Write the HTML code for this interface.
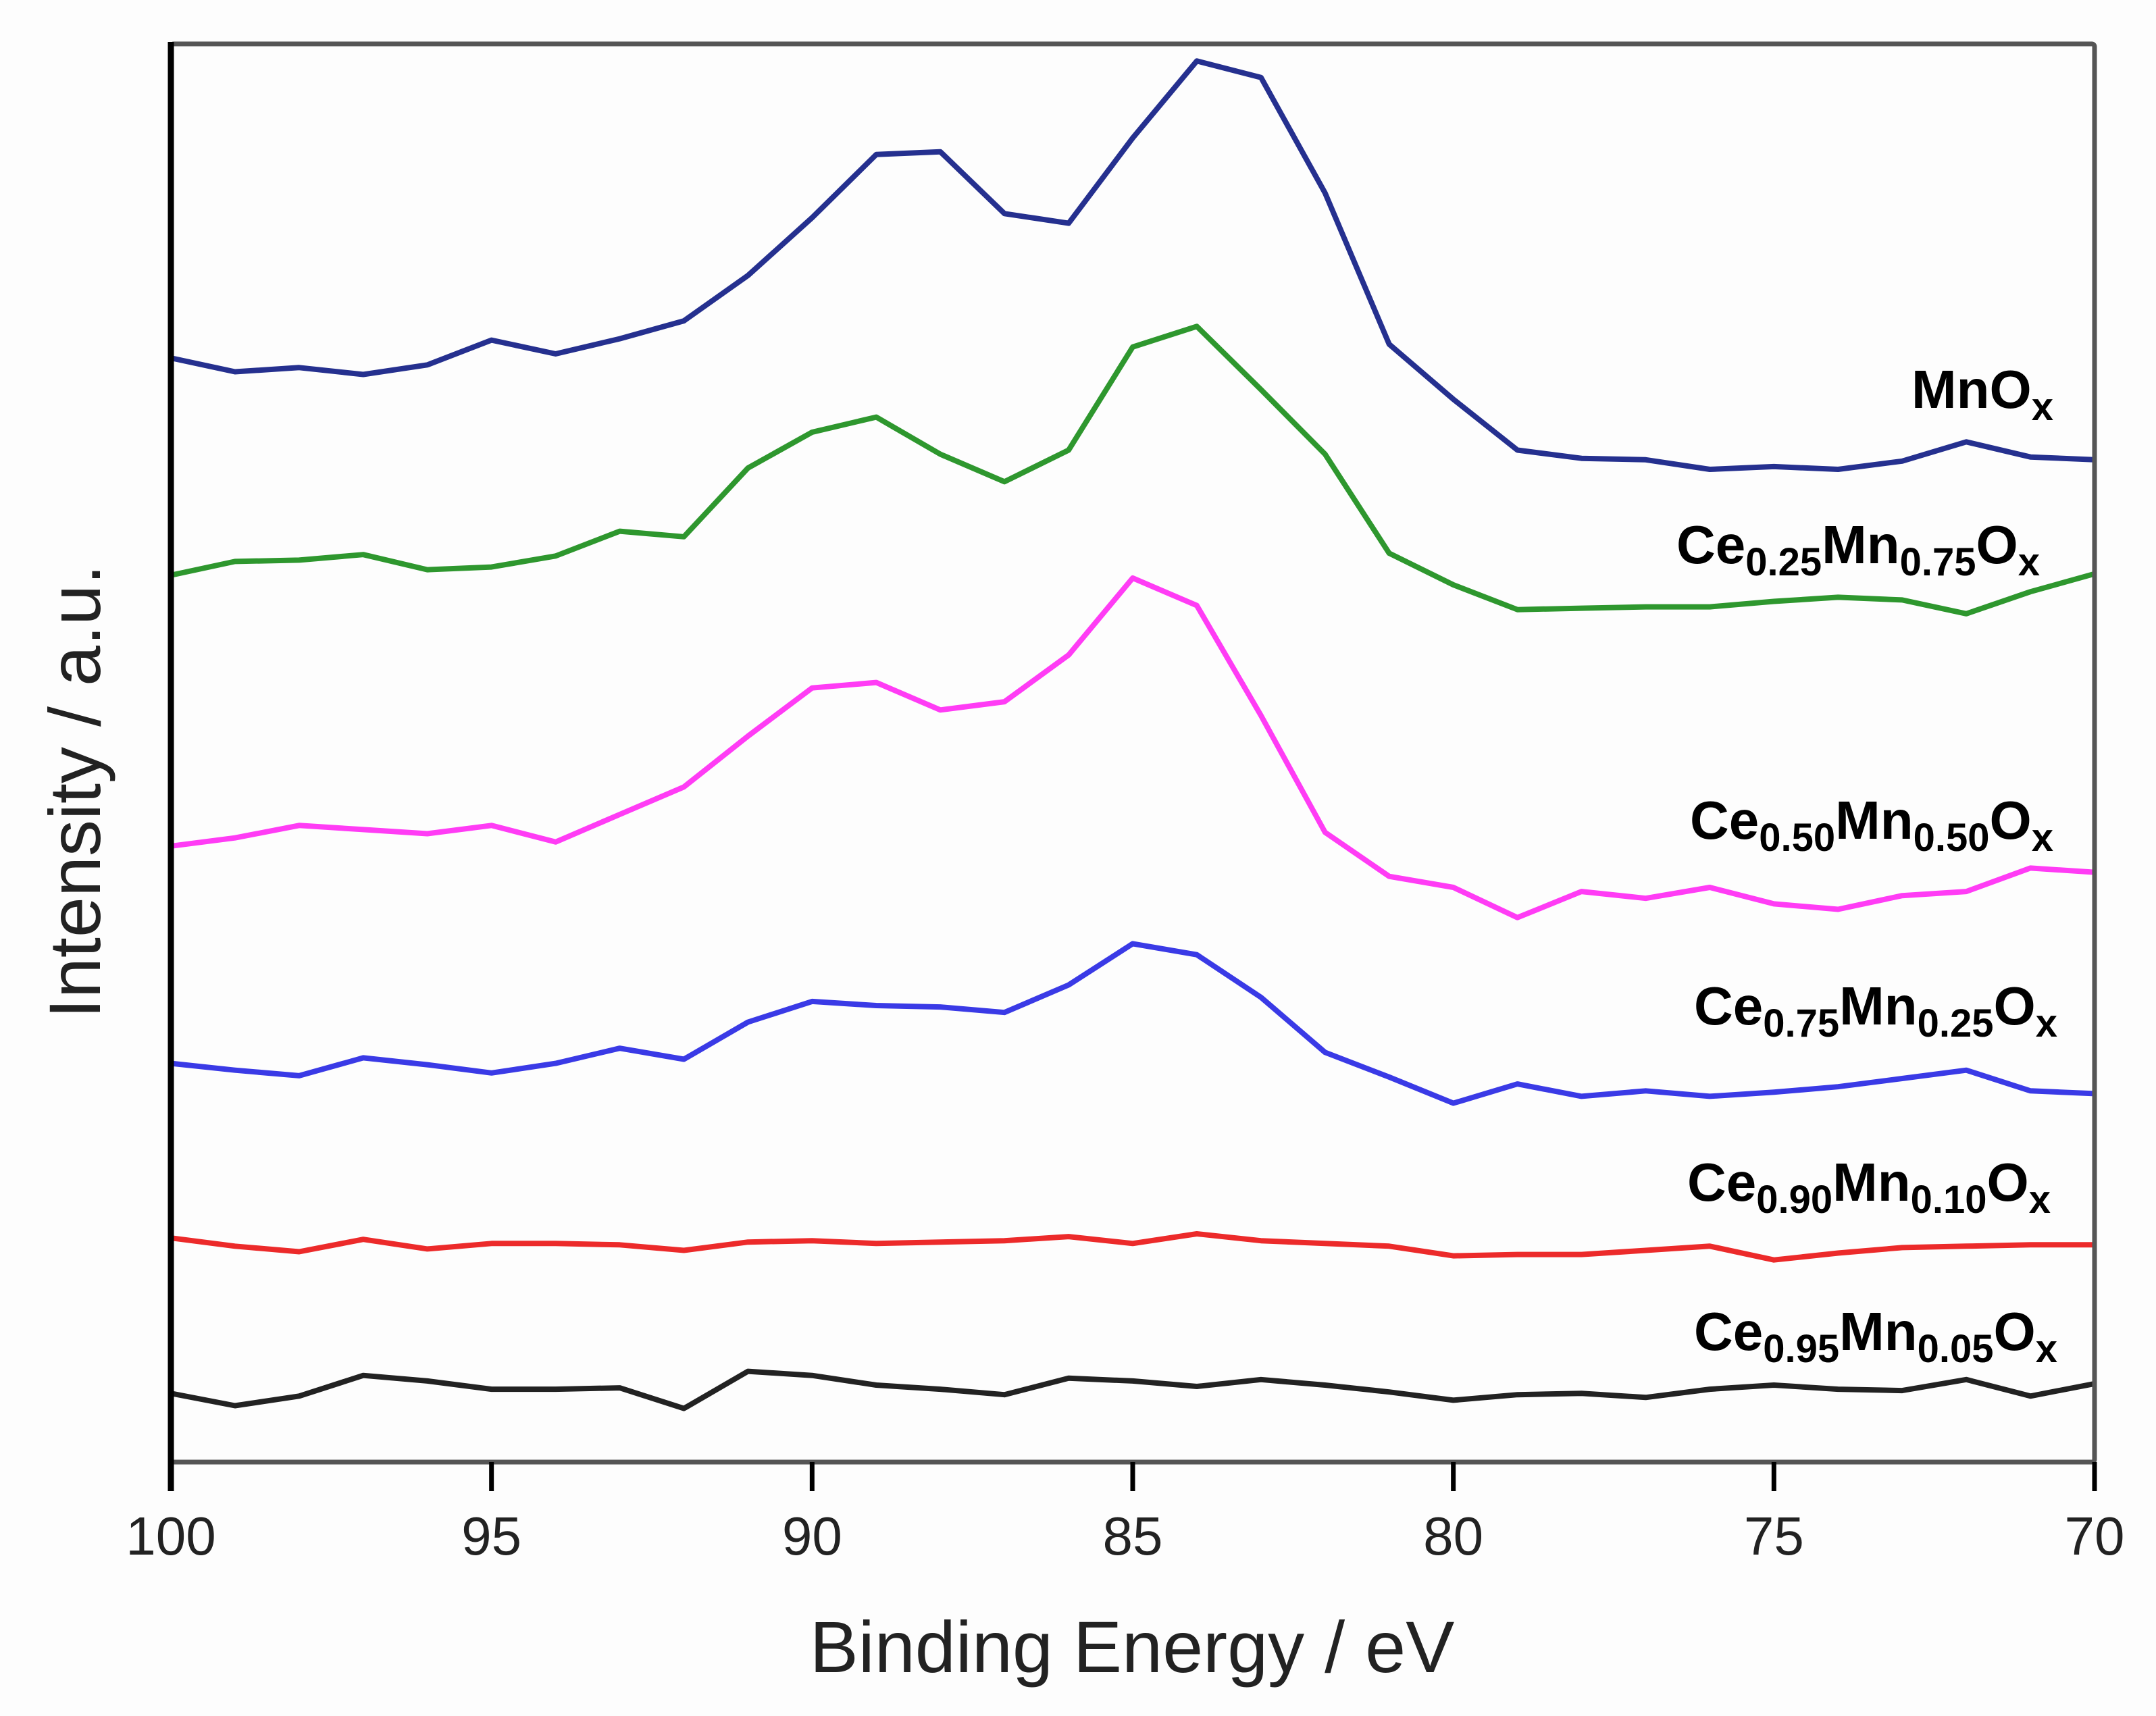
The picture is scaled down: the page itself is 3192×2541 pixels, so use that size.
<!DOCTYPE html>
<html><head><meta charset="utf-8"><style>
html,body{margin:0;padding:0;background:#fff;}
svg{display:block;}
text{font-family:"Liberation Sans",Arial,sans-serif;}
</style></head><body>
<svg id="chart" width="3192" height="2541" viewBox="0 0 3192 2541" xmlns="http://www.w3.org/2000/svg">
<rect width="3192" height="2541" fill="#fdfdfd"/>
<g id="plot"></g>
<rect x="253" y="65" width="2848" height="2100" fill="none" stroke="#555" stroke-width="7" rx="4"/>
<line x1="253" y1="62" x2="253" y2="2208" stroke="#000" stroke-width="9"/>
<g id="xticks"></g>
<text x="1676" y="2476" font-size="108" text-anchor="middle" fill="#222">Binding Energy / eV</text>
<text transform="translate(148,1172) rotate(-90)" font-size="108" text-anchor="middle" fill="#222">Intensity / a.u.</text>
<g font-weight="bold" font-size="80" fill="#000" text-anchor="end">
<text x="3040" y="604">MnO<tspan font-size="58" dy="18">x</tspan></text>
<text x="3020" y="834">Ce<tspan font-size="58" dy="18">0.25</tspan><tspan dy="-18">Mn</tspan><tspan font-size="58" dy="18">0.75</tspan><tspan dy="-18">O</tspan><tspan font-size="58" dy="18">x</tspan></text>
<text x="3040" y="1242">Ce<tspan font-size="58" dy="18">0.50</tspan><tspan dy="-18">Mn</tspan><tspan font-size="58" dy="18">0.50</tspan><tspan dy="-18">O</tspan><tspan font-size="58" dy="18">x</tspan></text>
<text x="3046" y="1517">Ce<tspan font-size="58" dy="18">0.75</tspan><tspan dy="-18">Mn</tspan><tspan font-size="58" dy="18">0.25</tspan><tspan dy="-18">O</tspan><tspan font-size="58" dy="18">x</tspan></text>
<text x="3036" y="1778">Ce<tspan font-size="58" dy="18">0.90</tspan><tspan dy="-18">Mn</tspan><tspan font-size="58" dy="18">0.10</tspan><tspan dy="-18">O</tspan><tspan font-size="58" dy="18">x</tspan></text>
<text x="3046" y="1999">Ce<tspan font-size="58" dy="18">0.95</tspan><tspan dy="-18">Mn</tspan><tspan font-size="58" dy="18">0.05</tspan><tspan dy="-18">O</tspan><tspan font-size="58" dy="18">x</tspan></text>
</g>
</svg>
<script>
const energies = [100,99,98,97,96,95,94,93,92,91,90,89,88,87,86,85,84,83,82,81,80,79,78,77,76,75,74,73,72,71,70];
const tickValues = [100,95,90,85,80,75,70];
const tickLabels = ["100","95","90","85","80","75","70"];
const mnoxRaw = [260,270,267,272,265,247,257,246,233,200,158,112,110,155,162,100,44,56,140,250,290,327,333,334,341,339,341,335,321,332,334];
const ce025Raw = [418,408,407,403,414,412,404,386,390,340,314,303,330,350,327,252,237,283,330,402,425,443,442,441,441,437,434,436,446,430,417];
const ce050Raw = [615,609,600,603,606,600,612,592,572,535,500,496,516,510,476,420,440,520,605,637,645,667,648,653,645,657,661,651,648,631,634];
const ce075Raw = [773,778,782,769,774,780,773,762,770,743,728,731,732,736,716,686,694,725,765,783,802,788,797,793,797,794,790,784,778,793,795];
const ce090Raw = [900,906,910,901,908,904,904,905,909,903,902,904,903,902,899,904,897,902,904,906,913,912,912,909,906,916,911,907,906,905,905];
const ce095Raw = [1013,1022,1015,1000,1004,1010,1010,1009,1024,997,1000,1007,1010,1014,1002,1004,1008,1003,1007,1012,1018,1014,1013,1016,1010,1007,1010,1011,1003,1015,1006];
// intensity (a.u.) = height above baseline
const toI = a => a.map(v => 1063 - v);
const seriesNames = ["mnox","ce025","ce050","ce075","ce090","ce095"];
const seriesColors = ["#25308f","#2e972e","#ff3cf5","#3a3ae6","#ec2a2a","#222"];
const seriesData = [toI(mnoxRaw),toI(ce025Raw),toI(ce050Raw),toI(ce075Raw),toI(ce090Raw),toI(ce095Raw)];

const X0=253, X1=3101, Y0=2165, SC=2.036;
const xScale = e => X0 + (100 - e) * (X1 - X0) / 30;
const yScale = v => Y0 - v * SC;
const NS="http://www.w3.org/2000/svg";
const plot=document.getElementById('plot');
seriesData.forEach((s,i)=>{
  const p=document.createElementNS(NS,'path');
  p.setAttribute('d', s.map((v,j)=>(j?'L':'M')+xScale(energies[j]).toFixed(1)+','+yScale(v).toFixed(1)).join(''));
  p.setAttribute('fill','none');
  p.setAttribute('stroke',seriesColors[i]);
  p.setAttribute('stroke-width','8');
  p.setAttribute('stroke-linejoin','round');
  
  
  plot.appendChild(p);
});
const xt=document.getElementById('xticks');
tickValues.forEach((t,i)=>{
  const x=xScale(t);
  const l=document.createElementNS(NS,'line');
  l.setAttribute('x1',x);l.setAttribute('x2',x);l.setAttribute('y1',2165);l.setAttribute('y2',2208);
  l.setAttribute('stroke','#000');l.setAttribute('stroke-width','7');
  
  
  xt.appendChild(l);
  const tx=document.createElementNS(NS,'text');
  tx.setAttribute('x',x);tx.setAttribute('y',2302);
  tx.setAttribute('font-size','80');tx.setAttribute('text-anchor','middle');tx.setAttribute('fill','#222');
  tx.textContent=tickLabels[i];
  
  
  xt.appendChild(tx);
});
</script>
</body></html>
